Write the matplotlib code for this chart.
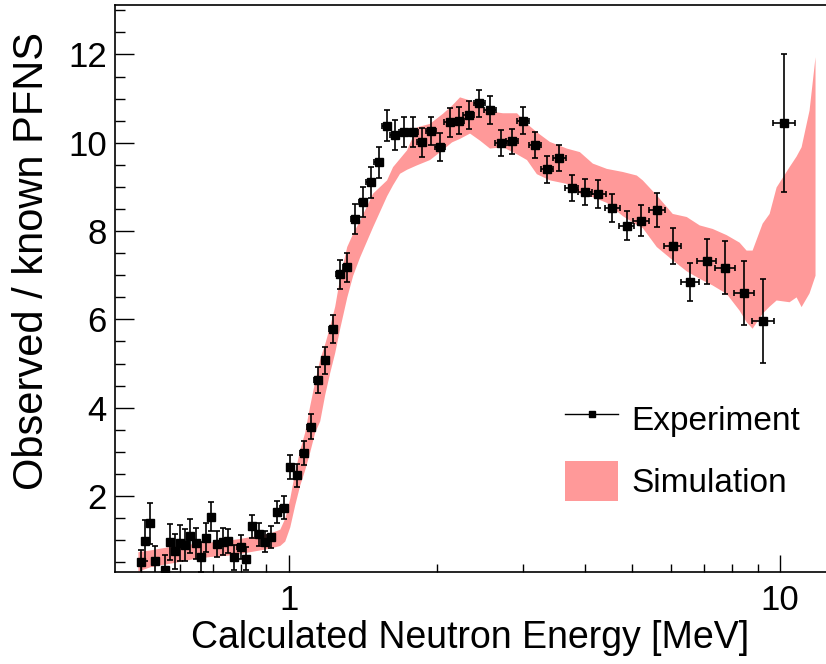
import numpy as np
import matplotlib
matplotlib.use("Agg")
import matplotlib.pyplot as plt
from matplotlib.lines import Line2D
from matplotlib.patches import Patch
from matplotlib.ticker import LogLocator, FixedLocator, MultipleLocator, NullFormatter

plt.rcParams['font.family'] = ['Liberation Sans', 'DejaVu Sans']

# ---------------------------------------------
# Experiment: observed / known PFNS
# ---------------------------------------------
exp_E = [0.4995, 0.5097, 0.5225, 0.5341, 0.5598, 0.5730, 0.5866, 0.6004, 0.6146, 0.6291,
         0.6461, 0.6614, 0.6789, 0.6963, 0.7148, 0.7351, 0.7539, 0.7754, 0.7977, 0.8204,
         0.8437, 0.8691, 0.8938, 0.9193, 0.9485, 0.9769, 1.0080, 1.0416, 1.0727, 1.1084,
         1.1470, 1.1874, 1.2285, 1.2694, 1.3135, 1.3640, 1.4158, 1.4678, 1.5238, 1.5842,
         1.6446, 1.7155, 1.7890, 1.8634, 1.9462, 2.0300, 2.1243, 2.2188, 2.3251, 2.4445,
         2.5700, 2.7060, 2.8494, 3.0040, 3.1730, 3.3564, 3.5548, 3.7650, 4.0100, 4.2670,
         4.5555, 4.8707, 5.2190, 5.6234, 6.0520, 6.5543, 7.0980, 7.7318, 8.4522, 9.2480,
         10.2033]
exp_ratio = [0.50, 0.99, 1.38, 0.53, 0.32, 0.96, 0.75, 0.94, 0.89, 1.10,
             0.93, 0.63, 1.06, 1.53, 0.91, 0.97, 0.98, 0.61, 0.84, 0.58,
             1.32, 1.13, 0.97, 1.08, 1.64, 1.73, 2.66, 2.47, 2.98, 3.57,
             4.63, 5.07, 5.79, 7.02, 7.18, 8.27, 8.65, 9.11, 9.56, 10.39,
             10.18, 10.24, 10.25, 10.01, 10.27, 9.91, 10.46, 10.50, 10.63, 10.89,
             10.74, 10.00, 10.03, 10.50, 9.95, 9.40, 9.66, 8.97, 8.89, 8.84,
             8.52, 8.12, 8.23, 8.48, 7.66, 6.84, 7.32, 7.17, 6.60, 5.97,
             10.45]
exp_yerr = [0.28, 0.47, 0.46, 0.34, 0.35, 0.41, 0.40, 0.41, 0.36, 0.38,
            0.35, 0.34, 0.33, 0.33, 0.30, 0.30, 0.28, 0.28, 0.27, 0.26,
            0.26, 0.26, 0.24, 0.25, 0.25, 0.26, 0.28, 0.26, 0.27, 0.28,
            0.29, 0.30, 0.32, 0.33, 0.33, 0.34, 0.34, 0.35, 0.35, 0.35,
            0.34, 0.34, 0.34, 0.33, 0.32, 0.32, 0.32, 0.31, 0.31, 0.31,
            0.31, 0.30, 0.29, 0.30, 0.30, 0.30, 0.30, 0.29, 0.30, 0.31,
            0.32, 0.33, 0.35, 0.38, 0.40, 0.43, 0.51, 0.60, 0.73, 0.95,
            1.57]
exp_xerr = [0.0058, 0.0060, 0.0062, 0.0064, 0.0069, 0.0072, 0.0074, 0.0077, 0.0079, 0.0082,
            0.0086, 0.0089, 0.0092, 0.0096, 0.0100, 0.0104, 0.0108, 0.0113, 0.0118, 0.0123,
            0.0128, 0.0134, 0.0139, 0.0145, 0.0152, 0.0159, 0.0167, 0.0175, 0.0183, 0.0193,
            0.0203, 0.0213, 0.0225, 0.0236, 0.0248, 0.0263, 0.0278, 0.0293, 0.0310, 0.0329,
            0.0348, 0.0371, 0.0395, 0.0420, 0.0448, 0.0477, 0.0511, 0.0545, 0.0585, 0.0631,
            0.0680, 0.0734, 0.0794, 0.0859, 0.0933, 0.1015, 0.1106, 0.1205, 0.1325, 0.1454,
            0.1604, 0.1774, 0.1967, 0.2200, 0.2457, 0.2769, 0.3120, 0.3547, 0.4055, 0.4640,
            0.5378]

# ---------------------------------------------
# Simulation band (lower / upper edge)
# ---------------------------------------------
sim_E = [0.4932, 0.5219, 0.5598, 0.6004, 0.6440, 0.6908, 0.7482, 0.7950, 0.8528, 0.9148,
         0.9588, 0.9815, 1.0047, 1.0285, 1.0529, 1.0778, 1.1033, 1.1295, 1.1562, 1.1836,
         1.2117, 1.2404, 1.2698, 1.3121, 1.3494, 1.3945, 1.4816, 1.5818, 1.6268, 1.6810,
         1.7370, 1.8199, 1.9344, 2.0560, 2.1445, 2.2263, 2.3330, 2.4447, 2.5619, 2.7226,
         2.9079, 3.0470, 3.1915, 3.3928, 3.6728, 3.9037, 4.1482, 4.4302, 4.7751, 5.0968,
         5.2420, 5.5976, 6.0331, 6.4420, 6.8453, 7.2739, 7.7655, 8.2522, 8.5271, 8.7700,
         9.1928, 9.4989, 9.8153, 10.4300, 10.7780, 11.0336, 11.4530, 11.7790]
sim_lo = [0.30, 0.40, 0.46, 0.52, 0.59, 0.63, 0.66, 0.70, 0.76, 0.82,
          0.88, 0.98, 1.30, 1.80, 2.25, 2.60, 3.00, 3.45, 3.70, 4.30,
          4.80, 5.25, 5.80, 6.50, 7.00, 7.42, 8.10, 8.80, 9.05, 9.31,
          9.40, 9.50, 9.62, 9.85, 10.02, 10.10, 10.22, 10.06, 9.88, 9.91,
          9.75, 9.62, 9.30, 9.16, 9.08, 8.86, 8.78, 8.65, 8.35, 8.15,
          8.08, 7.65, 7.35, 7.10, 6.93, 6.78, 6.59, 6.21, 5.95, 5.80,
          6.14, 6.30, 6.44, 6.40, 6.51, 6.29, 6.60, 7.00]
sim_hi = [0.74, 0.78, 0.84, 0.88, 0.93, 0.96, 1.00, 1.04, 1.10, 1.16,
          1.25, 1.50, 1.95, 2.55, 3.05, 3.45, 4.05, 4.60, 5.10, 5.45,
          5.85, 6.30, 6.95, 7.65, 7.95, 8.25, 8.86, 9.16, 9.46, 9.65,
          9.84, 10.36, 10.44, 10.67, 10.85, 11.04, 10.97, 10.87, 10.72, 10.68,
          10.68, 10.44, 10.25, 10.03, 9.88, 9.80, 9.54, 9.42, 9.35, 9.27,
          9.16, 8.82, 8.40, 8.33, 8.14, 8.06, 7.92, 7.75, 7.57, 7.57,
          8.18, 8.40, 9.00, 9.46, 9.70, 9.91, 10.74, 11.95]

band_color = '#ff9999'

W, H = 826, 664
fig = plt.figure(figsize=(W / 100, H / 100), dpi=100)
ax = fig.add_axes([115 / W, 92 / H, (W - 115) / W, (572 - 5) / H])

ax.fill_between(sim_E, sim_lo, sim_hi, color=band_color, lw=0, zorder=1)
ax.errorbar(exp_E, exp_ratio, xerr=exp_xerr, yerr=exp_yerr, fmt='s', color='black',
            ms=6, elinewidth=1.2, capsize=2, capthick=1.2, zorder=3)

ax.set_xscale('log')
ax.set_xlim(0.443, 12.4)
ax.set_ylim(0.28, 13.12)

ax.xaxis.set_major_locator(FixedLocator([1, 10]))
ax.set_xticklabels(['1', '10'])
ax.xaxis.set_minor_locator(LogLocator(base=10, subs=np.arange(2, 10) * 1.0, numticks=20))
ax.xaxis.set_minor_formatter(NullFormatter())
ax.yaxis.set_major_locator(MultipleLocator(2))
ax.yaxis.set_minor_locator(MultipleLocator(0.5))

ax.tick_params(axis='x', which='major', direction='in', length=12, width=1, labelsize=25, pad=9)
ax.tick_params(axis='x', which='minor', direction='in', length=6, width=1)
ax.tick_params(axis='y', which='major', direction='in', length=14, width=1, labelsize=25, pad=6)
ax.tick_params(axis='y', which='minor', direction='in', length=7, width=1)
ax.spines['right'].set_visible(False)
for s in ['left', 'bottom', 'top']:
    ax.spines[s].set_linewidth(1.2)

ax.set_xlabel('Calculated Neutron Energy [MeV]', fontsize=27, labelpad=2)
ax.set_ylabel('Observed / known PFNS', fontsize=30)
ax.yaxis.set_label_coords(-0.088, 0.548)

handles = [Line2D([], [], color='black', lw=1, marker='s', ms=4),
           Patch(facecolor=band_color, edgecolor='none')]
ax.legend(handles, ['Experiment', 'Simulation'], loc='upper left',
          bbox_to_anchor=(565 / W, 1 - 399 / H), bbox_transform=fig.transFigure,
          frameon=False, fontsize=24, handlelength=1.6, handleheight=1.45,
          handletextpad=0.4, labelspacing=0.68, borderpad=0, borderaxespad=0)

fig.savefig('out.png', dpi=100)
